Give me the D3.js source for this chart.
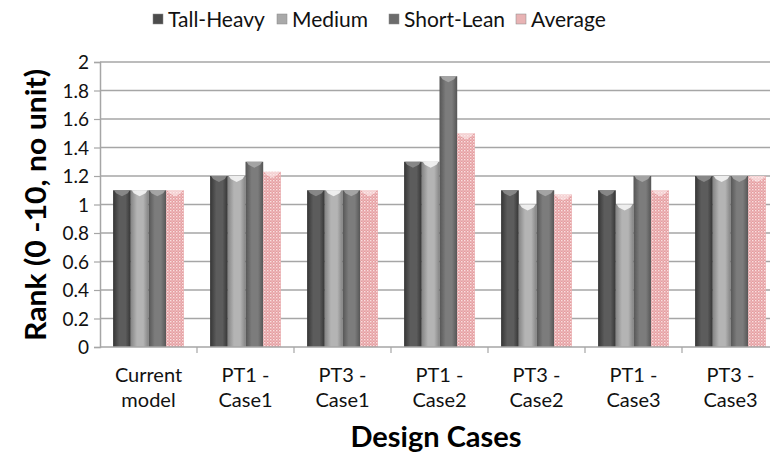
<!DOCTYPE html>
<html>
<head>
<meta charset="utf-8">
<script src="https://cdn.jsdelivr.net/npm/d3@7"></script>
<style>
  html, body { margin: 0; padding: 0; background: #fff; }
  svg { display: block; font-family: Lato, "Open Sans", sans-serif; }
</style>
</head>
<body>
<svg id="chart" width="770" height="454"></svg>
<script>
// Design cases on the x axis (two-line labels)
const categories = [
  ["Current", "model"],
  ["PT1 -", "Case1"],
  ["PT3 -", "Case1"],
  ["PT1 -", "Case2"],
  ["PT3 -", "Case2"],
  ["PT1 -", "Case3"],
  ["PT3 -", "Case3"]
];
const seriesNames = ["Tall-Heavy", "Medium", "Short-Lean", "Average"];
const tallHeavy = [1.1, 1.2, 1.1, 1.3, 1.1, 1.1, 1.2];
const medium    = [1.1, 1.2, 1.1, 1.3, 1.0, 1.0, 1.2];
const shortLean = [1.1, 1.3, 1.1, 1.9, 1.1, 1.2, 1.2];
const average   = [1.1, 1.23, 1.1, 1.5, 1.07, 1.1, 1.2];
const yTicks = [0, 0.2, 0.4, 0.6, 0.8, 1, 1.2, 1.4, 1.6, 1.8, 2];

const seriesValues = [tallHeavy, medium, shortLean, average];

const svg = d3.select("#chart");
const defs = svg.append("defs");

// Cylinder-like shading for the grey series
const shades = [
  { id: "g0", edge: "#353535", mid: "#5c5c5c" },
  { id: "g1", edge: "#858585", mid: "#b4b4b4" },
  { id: "g2", edge: "#555555", mid: "#7c7c7c" }
];
shades.forEach(s => {
  const g = defs.append("linearGradient").attr("id", s.id)
    .attr("x1", "0%").attr("x2", "100%").attr("y1", "0%").attr("y2", "0%");
  g.append("stop").attr("offset", "0%").attr("stop-color", s.edge);
  g.append("stop").attr("offset", "35%").attr("stop-color", s.mid);
  g.append("stop").attr("offset", "70%").attr("stop-color", s.mid);
  g.append("stop").attr("offset", "100%").attr("stop-color", s.edge);
});
// Dotted pink fill for the average series
const pat = defs.append("pattern").attr("id", "dots")
  .attr("width", 3).attr("height", 3).attr("patternUnits", "userSpaceOnUse");
pat.append("rect").attr("width", 3).attr("height", 3).attr("fill", "#e49a9d");
pat.append("rect").attr("x", 0).attr("y", 0).attr("width", 1.4).attr("height", 1.4).attr("fill", "#fbe6e6");
pat.append("rect").attr("x", 1.5).attr("y", 1.5).attr("width", 1.2).attr("height", 1.2).attr("fill", "#f6d2d3");

const fills = ["url(#g0)", "url(#g1)", "url(#g2)", "url(#dots)"];
const caps = ["#8c8c8c", "#f4f4f4", "#a8a8a8", "#fdf0f0"];
const legendFills = ["#4c4c4c", "#a9a9a9", "#6c6c6c", "#e8b3b4"];

const left = 100, bandW = 97;
const x = d3.scaleBand()
  .domain(d3.range(categories.length))
  .range([left, left + bandW * categories.length])
  .paddingInner(0.27).paddingOuter(0.135);
const xs = d3.scaleBand().domain(d3.range(seriesNames.length)).range([0, x.bandwidth()]);
const y = d3.scaleLinear().domain([0, 2]).range([347, 62]);

// Grid lines
svg.append("g").selectAll("line").data(yTicks.slice(1)).join("line")
  .attr("x1", left).attr("x2", 770)
  .attr("y1", d => y(d)).attr("y2", d => y(d))
  .attr("stroke", "#a6a6a6").attr("stroke-width", 1.5);

// Y axis
const yAxis = d3.axisLeft(y).tickValues(yTicks).tickSize(6).tickPadding(5)
  .tickFormat(d => d3.format("~g")(d));
const yg = svg.append("g").attr("transform", `translate(${left},0)`).call(yAxis);
yg.select(".domain").attr("stroke", "#a6a6a6").attr("stroke-width", 1.5);
yg.selectAll(".tick line").attr("stroke", "#a6a6a6").attr("stroke-width", 1.2);
yg.selectAll(".tick text").attr("font-size", 19).attr("fill", "#111")
  .attr("font-family", "Lato, sans-serif").attr("dy", "0.35em");

// Bars
categories.forEach((c, i) => {
  const g = svg.append("g").attr("transform", `translate(${x(i)},0)`);
  seriesValues.forEach((vals, s) => {
    const v = vals[i];
    const bx = xs(s), bw = xs.bandwidth();
    g.append("rect").attr("x", bx).attr("y", y(v))
      .attr("width", bw).attr("height", y(0) - y(v)).attr("fill", fills[s]);
    g.append("path")
      .attr("d", `M${bx + 1},${y(v)} L${bx + bw - 1},${y(v)} L${bx + bw - 3},${y(v) + 3} L${bx + bw / 2},${y(v) + 6} L${bx + 3},${y(v) + 3} Z`)
      .attr("fill", caps[s]).attr("opacity", s === 3 ? 0.6 : 0.9);
  });
});

// X axis baseline and category separators
const right = left + bandW * categories.length;
svg.append("line").attr("x1", left).attr("x2", right).attr("y1", y(0)).attr("y2", y(0))
  .attr("stroke", "#a6a6a6").attr("stroke-width", 1.5);
svg.append("g").selectAll("line").data(d3.range(1, categories.length)).join("line")
  .attr("x1", d => left + d * bandW).attr("x2", d => left + d * bandW)
  .attr("y1", y(0)).attr("y2", y(0) + 6)
  .attr("stroke", "#a6a6a6").attr("stroke-width", 1.2);

// Category labels
const lab = svg.append("g").selectAll("text").data(categories).join("text")
  .attr("text-anchor", "middle").attr("font-size", 20).attr("fill", "#111");
lab.append("tspan").attr("x", (d, i) => x(i) + x.bandwidth() / 2).attr("y", 382).text(d => d[0]);
lab.append("tspan").attr("x", (d, i) => x(i) + x.bandwidth() / 2).attr("y", 407).text(d => d[1]);

// Axis titles
svg.append("text").attr("x", 436).attr("y", 447).attr("text-anchor", "middle")
  .attr("font-size", 29).attr("font-weight", "bold").attr("fill", "#000").text("Design Cases");
svg.append("text").attr("transform", "translate(46,205) rotate(-90)").attr("text-anchor", "middle")
  .attr("font-size", 29).attr("font-weight", "bold").attr("fill", "#000")
  .attr("textLength", 272).attr("lengthAdjust", "spacingAndGlyphs").text("Rank (0 -10, no unit)");

// Legend
const legendX = [153, 277, 389, 516];
const lg = svg.append("g").selectAll("g").data(seriesNames).join("g")
  .attr("transform", (d, i) => `translate(${legendX[i]},14)`);
lg.append("rect").attr("width", 10).attr("height", 10).attr("fill", (d, i) => legendFills[i])
  .attr("stroke", "#888").attr("stroke-width", 0.5);
lg.append("text").attr("x", 15).attr("y", 13).attr("font-size", 21).attr("fill", "#111").text(d => d);
</script>
</body>
</html>
